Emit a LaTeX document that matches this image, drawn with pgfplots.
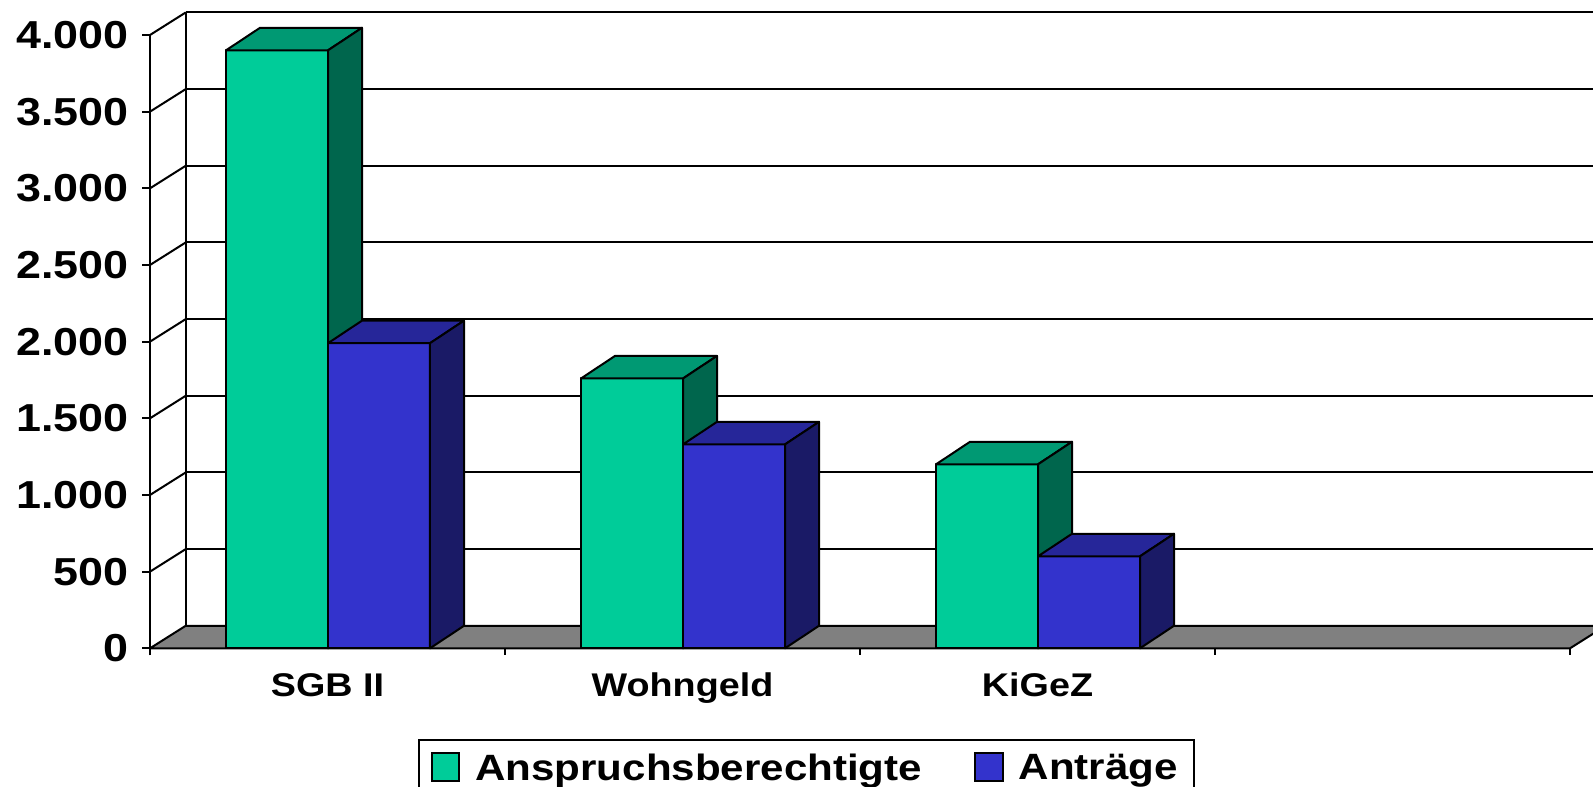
\documentclass[border=0pt]{standalone}
\usepackage{fontspec}
\usepackage{pgfplots}
\pgfplotsset{compat=1.18}
\newfontfamily\cf[FakeStretch=1.15]{Liberation Sans Bold}
\definecolor{gF}{RGB}{0,204,153}
\definecolor{gT}{RGB}{0,153,115}
\definecolor{gS}{RGB}{0,102,77}
\definecolor{bF}{RGB}{51,51,204}
\definecolor{bT}{RGB}{38,38,153}
\definecolor{bS}{RGB}{26,26,102}
\definecolor{floorgray}{RGB}{128,128,128}

% 3D bar: #1 left, #2 right (category units), #3 value, #4 front, #5 top, #6 side colour
\newcommand\tdbar[6]{%
  \pgfmathsetmacro\Lb{#1+0.0958}%
  \pgfmathsetmacro\Rb{#2+0.0958}%
  \pgfmathsetmacro\Vb{#3+147}%
  \edef\tmp{%
    \noexpand\addplot[fill=#4, draw=black, line width=1pt, line join=round, forget plot]
      coordinates {(#1,0) (#2,0) (#2,#3) (#1,#3)} -- cycle;
    \noexpand\addplot[fill=#5, draw=black, line width=1pt, line join=round, forget plot]
      coordinates {(#1,#3) (#2,#3) (\Rb,\Vb) (\Lb,\Vb)} -- cycle;
    \noexpand\addplot[fill=#6, draw=black, line width=1pt, line join=round, forget plot]
      coordinates {(#2,0) (\Rb,147) (\Rb,\Vb) (#2,#3)} -- cycle;
  }%
  \tmp
}

\begin{document}
\begin{tikzpicture}
\begin{axis}[
  scale only axis,
  width=796.5pt, height=393pt,
  xmin=-0.42254, xmax=4.06479,
  ymin=-898.1, ymax=4228.3,
  axis line style={draw=none},
  major tick length=0pt,
  tick style={draw=none},
  ytick={0,500,1000,1500,2000,2500,3000,3500,4000},
  yticklabels={0,500,1.000,1.500,2.000,2.500,3.000,3.500,4.000},
  yticklabel style={font=\cf\fontsize{19.5pt}{22pt}\selectfont, anchor=east, inner sep=0pt, xshift=64.5pt},
  xtick={0.5,1.5,2.5},
  xticklabels={SGB II,Wohngeld,KiGeZ},
  xticklabel style={font=\cf\fontsize{16.4pt}{19pt}\selectfont, anchor=base, inner sep=0pt, yshift=44.6pt},
  legend columns=2,
  legend style={at={(axis description cs:0.2621,0.0603)}, anchor=north west,
    draw=black, line width=1pt, fill=white,
    font=\cf\fontsize{18.3pt}{21pt}\selectfont,
    inner xsep=6pt, inner ysep=5pt,
    /tikz/every odd column/.append style={column sep=5.6pt},
    /tikz/every even column/.append style={column sep=24pt}},
  legend image code/.code={\draw[#1, line width=1pt] (0pt,-6.2pt) rectangle (13.8pt,7.6pt);},
]
% back wall gridlines
\addplot[black, line width=1pt, forget plot] coordinates {(0.1006,647) (4.1006,647)};
\addplot[black, line width=1pt, forget plot] coordinates {(0.1006,1147) (4.1006,1147)};
\addplot[black, line width=1pt, forget plot] coordinates {(0.1006,1647) (4.1006,1647)};
\addplot[black, line width=1pt, forget plot] coordinates {(0.1006,2147) (4.1006,2147)};
\addplot[black, line width=1pt, forget plot] coordinates {(0.1006,2647) (4.1006,2647)};
\addplot[black, line width=1pt, forget plot] coordinates {(0.1006,3147) (4.1006,3147)};
\addplot[black, line width=1pt, forget plot] coordinates {(0.1006,3647) (4.1006,3647)};
\addplot[black, line width=1pt, forget plot] coordinates {(0.1006,4147) (4.1006,4147)};
\addplot[black, line width=1pt, forget plot] coordinates {(0.1006,147) (0.1006,4147)};
% side wall lines
\addplot[black, line width=1pt, forget plot] coordinates {(0,500) (0.1006,647)};
\addplot[black, line width=1pt, forget plot] coordinates {(0,1000) (0.1006,1147)};
\addplot[black, line width=1pt, forget plot] coordinates {(0,1500) (0.1006,1647)};
\addplot[black, line width=1pt, forget plot] coordinates {(0,2000) (0.1006,2147)};
\addplot[black, line width=1pt, forget plot] coordinates {(0,2500) (0.1006,2647)};
\addplot[black, line width=1pt, forget plot] coordinates {(0,3000) (0.1006,3147)};
\addplot[black, line width=1pt, forget plot] coordinates {(0,3500) (0.1006,3647)};
\addplot[black, line width=1pt, forget plot] coordinates {(0,4000) (0.1006,4147)};
% front value axis
\addplot[black, line width=1pt, forget plot] coordinates {(0,-45.7) (0,4000)};
% floor
\addplot[fill=floorgray, draw=black, line width=1pt, line join=round, forget plot]
  coordinates {(0,0) (4,0) (4.1006,147) (0.1006,147)} -- cycle;
% bars
\tdbar{0.2141}{0.5014}{3900}{gF}{gT}{gS}
\tdbar{0.5014}{0.7887}{1990}{bF}{bT}{bS}
\tdbar{1.2141}{1.5014}{1760}{gF}{gT}{gS}
\tdbar{1.5014}{1.7887}{1330}{bF}{bT}{bS}
\tdbar{2.2141}{2.5014}{1200}{gF}{gT}{gS}
\tdbar{2.5014}{2.7887}{600}{bF}{bT}{bS}
% ticks
\addplot[black, line width=1pt, forget plot] coordinates {(-0.0225,0) (0,0)};
\addplot[black, line width=1pt, forget plot] coordinates {(-0.0225,500) (0,500)};
\addplot[black, line width=1pt, forget plot] coordinates {(-0.0225,1000) (0,1000)};
\addplot[black, line width=1pt, forget plot] coordinates {(-0.0225,1500) (0,1500)};
\addplot[black, line width=1pt, forget plot] coordinates {(-0.0225,2000) (0,2000)};
\addplot[black, line width=1pt, forget plot] coordinates {(-0.0225,2500) (0,2500)};
\addplot[black, line width=1pt, forget plot] coordinates {(-0.0225,3000) (0,3000)};
\addplot[black, line width=1pt, forget plot] coordinates {(-0.0225,3500) (0,3500)};
\addplot[black, line width=1pt, forget plot] coordinates {(-0.0225,4000) (0,4000)};
\addplot[black, line width=1pt, forget plot] coordinates {(1,0) (1,-45.7)};
\addplot[black, line width=1pt, forget plot] coordinates {(2,0) (2,-45.7)};
\addplot[black, line width=1pt, forget plot] coordinates {(3,0) (3,-45.7)};
\addplot[black, line width=1pt, forget plot] coordinates {(4,0) (4,-45.7)};
% legend
\addlegendimage{fill=gF, draw=black}
\addlegendentry{Anspruchsberechtigte}
\addlegendimage{fill=bF, draw=black}
\addlegendentry{Anträge}
\coordinate (BL) at (rel axis cs:0,0);
\coordinate (TR) at (rel axis cs:1,1);
\end{axis}
\pgfresetboundingbox
\path[use as bounding box] (BL) rectangle (TR);
\end{tikzpicture}
\end{document}
